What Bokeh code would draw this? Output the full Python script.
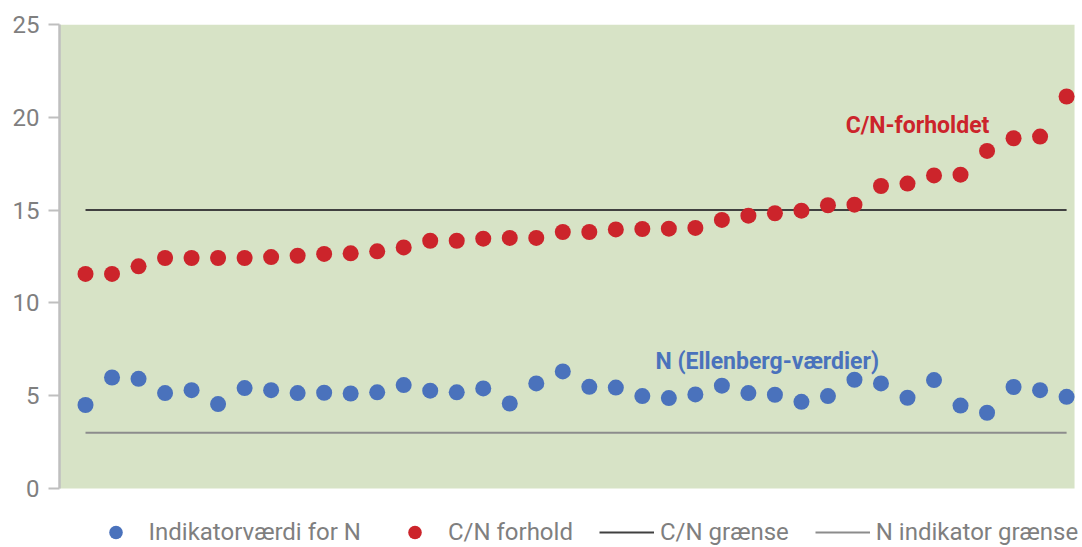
from bokeh.plotting import figure
from bokeh.models import (ColumnDataSource, Legend, LegendItem, Label, FixedTicker,
                          Range1d, BoxAnnotation)
from bokeh.embed import file_html
from bokeh.resources import INLINE

# ---- data ----
cn_ratio = [11.56, 11.56, 11.97, 12.42, 12.42, 12.42, 12.42, 12.47, 12.54, 12.64,
            12.67, 12.78, 12.99, 13.35, 13.35, 13.46, 13.50, 13.50, 13.82, 13.82,
            13.96, 13.98, 14.00, 14.04, 14.47, 14.70, 14.83, 14.97, 15.26, 15.29,
            16.30, 16.43, 16.87, 16.91, 18.19, 18.87, 18.96, 21.12]
n_indicator = [4.50, 5.98, 5.91, 5.14, 5.30, 4.55, 5.41, 5.30, 5.14, 5.16,
               5.12, 5.18, 5.57, 5.27, 5.18, 5.39, 4.58, 5.66, 6.31, 5.48,
               5.44, 4.98, 4.87, 5.07, 5.54, 5.14, 5.05, 4.67, 4.98, 5.86,
               5.66, 4.89, 5.84, 4.47, 4.08, 5.47, 5.30, 4.94]
sample = list(range(1, len(cn_ratio) + 1))
cn_limit = 15
n_limit = 3
y_ticks = [0, 5, 10, 15, 20, 25]
series_labels = ["Indikatorværdi for N", "C/N forhold", "C/N grænse", "N indikator grænse"]
annot_cn = "C/N-forholdet"
annot_n = "N (Ellenberg-værdier)"

# ---- style ----
RED = "#CC242B"
BLUE = "#4A72BC"
BG = "#D7E3C6"
GRAY_TXT = "#7F7F7F"
FONT = "Roboto"
Y_MIN, Y_MAX = 0, 25
X_START, X_PLOT_END, X_END = 0.019, 38.30, 38.60

src = ColumnDataSource(dict(x=sample, cn=cn_ratio, n=n_indicator))
lim_src = ColumnDataSource(dict(x=[sample[0], sample[-1]],
                                cn=[cn_limit, cn_limit], n=[n_limit, n_limit]))

# frame extends below 0 so the legend can live inside it (not clipped)
p = figure(width=1082, height=547, output_backend="svg", toolbar_location=None,
           x_range=Range1d(X_START, X_END), y_range=Range1d(-3.179, Y_MAX),
           min_border_left=59, min_border_right=0, min_border_top=24, min_border_bottom=0)
p.background_fill_color = "white"
p.border_fill_color = "white"
p.outline_line_color = None
p.grid.visible = False
p.xaxis.visible = False

# green plot area
p.add_layout(BoxAnnotation(bottom=Y_MIN, top=Y_MAX, right=X_PLOT_END,
                           fill_color=BG, fill_alpha=1, line_color=None, level="underlay"))

ya = p.yaxis[0]
ya.ticker = FixedTicker(ticks=y_ticks)
ya.bounds = (Y_MIN, Y_MAX)
ya.axis_line_color = "#BFBFBF"
ya.axis_line_width = 2.5
ya.major_tick_line_color = "#BFBFBF"
ya.major_tick_line_width = 2
ya.major_tick_out = 11
ya.major_tick_in = 0
ya.minor_tick_line_color = None
ya.major_label_standoff = 9
ya.major_label_text_font = FONT
ya.major_label_text_font_size = "24px"
ya.major_label_text_color = GRAY_TXT

l_cn = p.line("x", "cn", source=lim_src, line_color="#404040", line_width=2)
l_n = p.line("x", "n", source=lim_src, line_color="#8C8C8C", line_width=2)
r_n = p.scatter("x", "n", source=src, size=16, fill_color=BLUE, line_color=None)
r_cn = p.scatter("x", "cn", source=src, size=16, fill_color=RED, line_color=None)

lg = Legend(items=[LegendItem(label=series_labels[0], renderers=[r_n]),
                   LegendItem(label=series_labels[1], renderers=[r_cn]),
                   LegendItem(label=series_labels[2], renderers=[l_cn]),
                   LegendItem(label=series_labels[3], renderers=[l_n])],
            location=(28.5, -2), orientation="horizontal",
            glyph_width=55, glyph_height=34, label_standoff=6,
            padding=0, margin=0, spacing=26,
            background_fill_alpha=0, border_line_alpha=0,
            label_text_font=FONT, label_text_font_size="24px",
            label_text_color=GRAY_TXT)
p.add_layout(lg, "center")

p.add_layout(Label(x=29.67, y=19.57, text=annot_cn, text_color=RED, text_font=FONT,
                   text_font_size="23px", text_font_style="bold", text_baseline="alphabetic"))
p.add_layout(Label(x=22.5, y=6.85, text=annot_n, text_color=BLUE, text_font=FONT,
                   text_font_size="23px", text_font_style="bold", text_baseline="alphabetic"))

open("out.html", "w").write(file_html(p, INLINE))
